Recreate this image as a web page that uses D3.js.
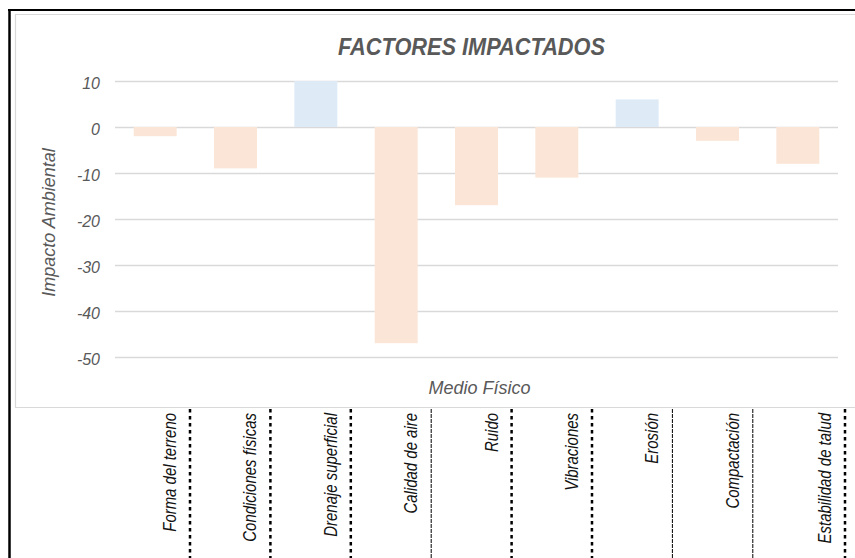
<!DOCTYPE html>
<html>
<head>
<meta charset="utf-8">
<script src="https://cdn.jsdelivr.net/npm/d3@7/dist/d3.min.js"></script>
<style>
  html, body { margin: 0; padding: 0; background: #fff; }
  svg { display: block; font-family: "Liberation Sans", Arial, sans-serif; }
</style>
</head>
<body>
<svg id="chart" width="855" height="558"></svg>
<script>
// Environmental impact per physical-environment factor
const categories = [
  "Forma del terreno", "Condiciones físicas", "Drenaje superficial",
  "Calidad de aire", "Ruido", "Vibraciones", "Erosión",
  "Compactación", "Estabilidad de talud"
];
const impactValues = [-2, -9, 10, -47, -17, -11, 6, -3, -8];
const yTicks = [10, 0, -10, -20, -30, -40, -50];
const chartTitle = "FACTORES IMPACTADOS";
const yTitle = "Impacto Ambiental";
const xTitle = "Medio Físico";

const W = 855, H = 558;
const svg = d3.select("#chart");

const plot = { left: 115, right: 838, top: 81, bottom: 357 };

const x = d3.scaleBand()
  .domain(categories)
  .range([plot.left, plot.right])
  .paddingInner(0.465)
  .paddingOuter(0.2325);

const y = d3.scaleLinear()
  .domain([-50, 10])
  .range([plot.bottom, plot.top]);

const negFill = "#FBE5D6", posFill = "#DEEBF7";
const textGray = "#595959";

// outer table frame
svg.append("line").attr("x1", 8).attr("x2", W).attr("y1", 10).attr("y2", 10)
  .attr("stroke", "#000").attr("stroke-width", 2);
svg.append("line").attr("x1", 9.5).attr("x2", 9.5).attr("y1", 9).attr("y2", H)
  .attr("stroke", "#000").attr("stroke-width", 2.5);

// chart area border (open on the right side)
svg.append("path")
  .attr("d", `M${W},14.5 H15.5 V407.5 H${W}`)
  .attr("fill", "none").attr("stroke", "#d9d9d9").attr("stroke-width", 1.2);

// horizontal gridlines
svg.append("g")
  .selectAll("line")
  .data(yTicks)
  .join("line")
  .attr("x1", plot.left).attr("x2", plot.right)
  .attr("y1", d => Math.round(y(d)) + 0.5)
  .attr("y2", d => Math.round(y(d)) + 0.5)
  .attr("stroke", "#d9d9d9").attr("stroke-width", 1.3);

// value axis labels (plain hyphen for negatives)
const yAxis = d3.axisLeft(y).tickValues(yTicks).tickSize(0).tickPadding(0)
  .tickFormat(d => String(d));
const gy = svg.append("g").attr("transform", `translate(100,0)`).call(yAxis);
gy.select(".domain").remove();
gy.selectAll("text")
  .attr("font-size", 16).attr("font-style", "italic")
  .attr("fill", textGray).attr("dy", "0.45em")
  .attr("font-family", "'Liberation Sans', Arial, sans-serif");

// bars
svg.append("g")
  .selectAll("rect")
  .data(categories.map((c, i) => ({ c, v: impactValues[i] })))
  .join("rect")
  .attr("x", d => x(d.c))
  .attr("width", x.bandwidth())
  .attr("y", d => y(Math.max(0, d.v)))
  .attr("height", d => Math.abs(y(d.v) - y(0)))
  .attr("fill", d => d.v >= 0 ? posFill : negFill);

// titles
const title = svg.append("text")
  .attr("x", 471.5).attr("y", 55)
  .attr("text-anchor", "middle")
  .attr("font-size", 24).attr("font-weight", "bold").attr("font-style", "italic")
  .attr("fill", textGray)
  .text(chartTitle);
title.attr("textLength", 267).attr("lengthAdjust", "spacingAndGlyphs");

svg.append("text")
  .attr("transform", `translate(55,222.5) rotate(-90)`)
  .attr("text-anchor", "middle")
  .attr("font-size", 18).attr("font-style", "italic")
  .attr("fill", textGray)
  .text(yTitle);

svg.append("text")
  .attr("x", 479.5).attr("y", 394)
  .attr("text-anchor", "middle")
  .attr("font-size", 18).attr("font-style", "italic")
  .attr("fill", textGray)
  .text(xTitle);

// category label row below the chart: table cells with dotted borders
const cellStep = 80.4, firstCellRight = 190;
const cellRight = i => i < categories.length - 1 ? firstCellRight + cellStep * i : W - 10;
const thinBorders = new Set([3, 6, 7]);

const cells = svg.append("g").selectAll("g")
  .data(categories)
  .join("g");

cells.append("line")
  .attr("x1", (d, i) => cellRight(i)).attr("x2", (d, i) => cellRight(i))
  .attr("y1", 409).attr("y2", H)
  .attr("stroke", "#000")
  .attr("stroke-width", (d, i) => thinBorders.has(i) ? 1 : 2.5)
  .attr("stroke-dasharray", (d, i) => thinBorders.has(i) ? "4,1" : "3.5,3.5");

cells.append("text")
  .attr("transform", (d, i) => `translate(${cellRight(i) - 14},413) rotate(-90)`)
  .attr("text-anchor", "end")
  .attr("font-size", 18).attr("font-style", "italic")
  .attr("fill", "#111")
  .text(d => d)
  .each(function () {
    const len = this.getComputedTextLength();
    d3.select(this).attr("textLength", len * 0.83).attr("lengthAdjust", "spacingAndGlyphs");
  });
</script>
</body>
</html>
